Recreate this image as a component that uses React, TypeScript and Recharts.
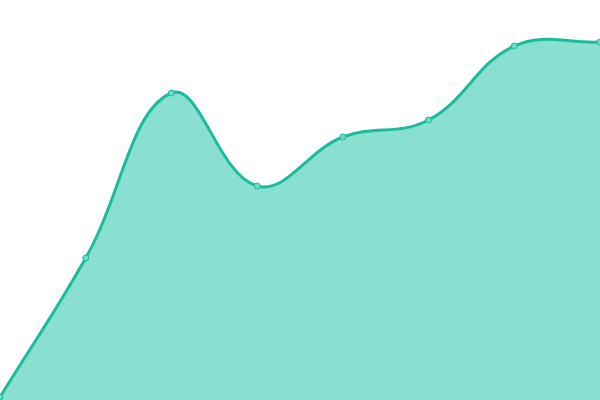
import { AreaChart, Area, XAxis, YAxis } from 'recharts';

const CATEGORIES = ['A', 'B', 'C', 'D', 'E', 'F', 'G', 'H'];
const VALUES = [3, 142, 307, 214, 263, 280, 354, 358];

const data = CATEGORIES.map((name, i) => ({ name, value: VALUES[i] }));

const TENSION = 0.4;

// spline like chart.js: control points scaled by distance to neighbours, flat at the ends
class SplineCurve {
  _context: any;
  _line = NaN;
  _pts: number[][] = [];
  constructor(context: any) {
    this._context = context;
  }
  areaStart() {
    this._line = 0;
  }
  areaEnd() {
    this._line = NaN;
  }
  lineStart() {
    this._pts = [];
  }
  point(x: number, y: number) {
    this._pts.push([+x, +y]);
  }
  lineEnd() {
    const p = this._pts;
    const ctx = this._context;
    const n = p.length;
    if (n) {
      if (this._line) ctx.lineTo(p[0][0], p[0][1]);
      else ctx.moveTo(p[0][0], p[0][1]);
      const cps = p.map((cur, i) => {
        const prev = p[i - 1] || cur;
        const next = p[i + 1] || cur;
        const d01 = Math.hypot(cur[0] - prev[0], cur[1] - prev[1]);
        const d12 = Math.hypot(next[0] - cur[0], next[1] - cur[1]);
        let s01 = d01 / (d01 + d12);
        let s12 = d12 / (d01 + d12);
        if (isNaN(s01)) s01 = 0;
        if (isNaN(s12)) s12 = 0;
        const fa = TENSION * s01;
        const fb = TENSION * s12;
        return {
          before: [cur[0] - fa * (next[0] - prev[0]), cur[1] - fa * (next[1] - prev[1])],
          after: [cur[0] + fb * (next[0] - prev[0]), cur[1] + fb * (next[1] - prev[1])],
        };
      });
      for (let i = 1; i < n; i++) {
        const a = cps[i - 1].after;
        const b = cps[i].before;
        ctx.bezierCurveTo(a[0], a[1], b[0], b[1], p[i][0], p[i][1]);
      }
    }
    if (this._line || (this._line !== 0 && n === 1)) ctx.closePath();
    this._line = 1 - this._line;
  }
}

const splineCurve = (context: any) => new SplineCurve(context);

export default function App() {
  return (
    <div style={{ position: 'fixed', left: 0, top: 0, width: 600, height: 400, background: '#fff' }}>
      <AreaChart width={600} height={400} data={data} margin={{ top: 0, right: 0, bottom: 0, left: 0 }}>
        <XAxis dataKey="name" hide />
        <YAxis domain={[0, 400]} hide />
        <Area
          type={splineCurve as any}
          dataKey="value"
          stroke="#1abc9c"
          strokeWidth={3}
          fill="#89e0d0"
          fillOpacity={1}
          dot={{ r: 3, fill: '#6fdac5', stroke: '#1abc9c', strokeWidth: 1, fillOpacity: 1 }}
          activeDot={false}
          isAnimationActive={false}
        />
      </AreaChart>
    </div>
  );
}
